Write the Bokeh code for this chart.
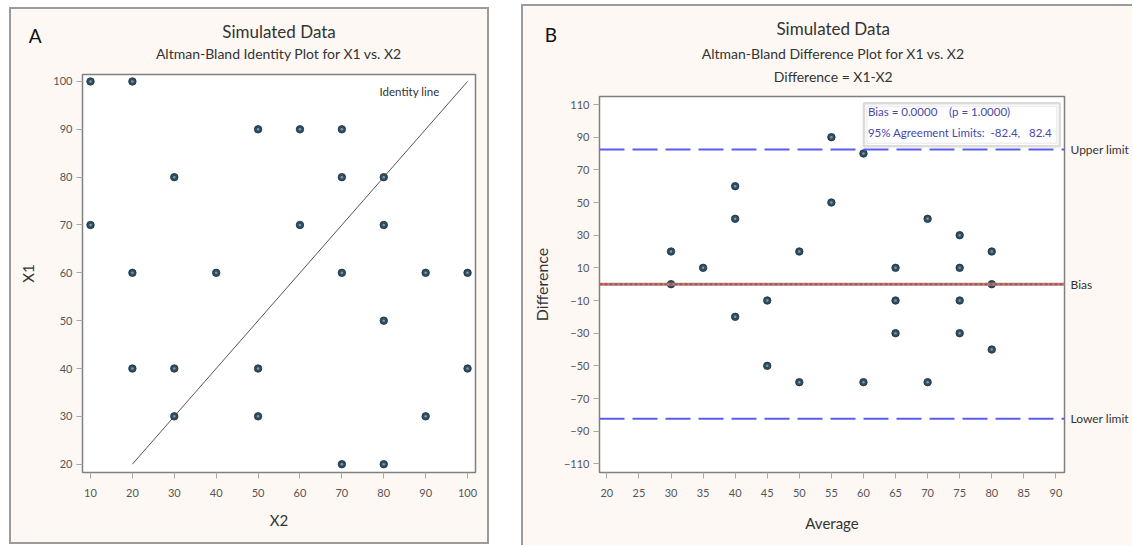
from bokeh.plotting import figure
from bokeh.layouts import row, column
from bokeh.models import Label, Span, BoxAnnotation, Spacer, Range1d, LinearAxis, FixedTicker
from bokeh.core.properties import value
from bokeh.embed import file_html
from bokeh.resources import INLINE

# ---------------- data ----------------
x2_vals = [10, 20, 50, 60, 70, 30, 70, 80, 10, 60, 80, 20, 40, 70, 90, 100, 80, 20, 30, 50, 100, 30, 50, 90, 70, 80]
x1_vals = [100, 100, 90, 90, 90, 80, 80, 80, 70, 70, 70, 60, 60, 60, 60, 60, 50, 40, 40, 40, 40, 30, 30, 30, 20, 20]
identity_ends = [20, 100]
a_xticks = [10, 20, 30, 40, 50, 60, 70, 80, 90, 100]
a_yticks = [20, 30, 40, 50, 60, 70, 80, 90, 100]

average_vals = [(a + b) / 2 for a, b in zip(x1_vals, x2_vals)]
difference_vals = [a - b for a, b in zip(x1_vals, x2_vals)]
bias = 0.0
p_value = 1.0
lower_limit = -82.4
upper_limit = 82.4
limit_names = ["Lower limit", "Bias", "Upper limit"]
b_xticks = [20, 25, 30, 35, 40, 45, 50, 55, 60, 65, 70, 75, 80, 85, 90]
b_yticks = [-110, -90, -70, -50, -30, -10, 10, 30, 50, 70, 90, 110]

# ---------------- style ----------------
FONT = "Lato"
CREAM = "#fdf8f3"
PANEL_BORDER = "#9b9b9b"
DOT_FILL = "#2f4d61"
DOT_LINE = "#1c3140"
DOT_HI = "#7f9aac"
TEXT = "#333333"
TICKTEXT = "#555555"


def style_axes(p, label_size="15px"):
    p.grid.visible = False
    for ax in p.axis:
        ax.axis_line_color = "#808080"
        ax.axis_line_width = 1
        ax.major_tick_line_color = "#a8a8a8"
        ax.major_tick_out = 6
        ax.major_tick_in = 0
        ax.minor_tick_line_color = None
        ax.major_label_text_font = FONT
        ax.major_label_text_font_size = "11px"
        ax.major_label_text_color = TICKTEXT
        ax.major_label_standoff = 4
        ax.axis_label_text_font = FONT
        ax.axis_label_text_font_size = label_size
        ax.axis_label_text_font_style = "normal"
        ax.axis_label_text_color = TEXT
    p.xaxis.major_label_standoff = 10


def dlab(p, x, y, text, xo=0, yo=0, size="12px", align="left", base="alphabetic", color=TEXT):
    p.add_layout(Label(x=x, y=y, x_offset=xo, y_offset=yo, text=text,
                       text_font=FONT, text_font_size=size, text_align=align,
                       text_baseline=base, text_color=color))


def dots(p, xs, ys):
    p.scatter(xs, ys, size=7.5, fill_color=DOT_FILL, line_color=DOT_LINE, line_width=0.8)
    p.scatter(xs, ys, size=2.5, fill_color=DOT_HI, line_color=None)


def header(width, height):
    # a bare strip whose coordinates are pixels (x from left, y from top)
    h = figure(width=width, height=height, x_range=Range1d(0, width), y_range=Range1d(height, 0),
               x_axis_location=None, y_axis_location=None, toolbar_location=None,
               output_backend="svg", title=None, min_border=0,
               outline_line_color=None, background_fill_color=None, border_fill_color=None)
    h.grid.visible = False
    h.frame_align = False
    return h


def htext(h, x, y, text, size, align="center", color=TEXT):
    h.text(x=[x], y=[y], text=[text], text_font=value(FONT), text_font_size=value(size),
           text_align=align, text_baseline="alphabetic", text_color=color)


# ---------------- panel A ----------------
ax0, ax1 = 8.09, 101.9
ay0, ay1 = 18.26, 101.46
A_W, A_HDR, A_H = 480, 65, 472
hA = header(A_W, A_HDR)
htext(hA, 19.3, 28.2, "A", "19px", align="left", color="#111111")
htext(hA, 269.5, 23.8, "Simulated Data", "17px")
htext(hA, 269.5, 45.8, "Altman-Bland Identity Plot for X1 vs. X2", "14px")

pA = figure(width=A_W, height=A_H, x_range=Range1d(ax0, ax1), y_range=Range1d(ay0, ay1),
            output_backend="svg", toolbar_location=None, title=None,
            min_border_left=73, min_border_right=14, min_border_top=2, min_border_bottom=72,
            background_fill_color="white", border_fill_color=None,
            outline_line_color="#7f7f7f", outline_line_width=1.5,
            x_axis_label="X2", y_axis_label="X1")
pA.frame_align = False
pA.xaxis.ticker = a_xticks
pA.yaxis.ticker = a_yticks
style_axes(pA, "15px")
pA.xaxis.axis_label_standoff = 11
pA.yaxis.axis_label_standoff = 13

pA.line(identity_ends, identity_ends, line_color="#555555", line_width=1)
dots(pA, x2_vals, x1_vals)
dlab(pA, ax1, ay1, "Identity line", xo=-36, yo=-16.7, size="11.5px", align="right", base="middle")

colA = column(hA, pA)
colA.styles = {"background-color": CREAM, "box-shadow": f"inset 0 0 0 2px {PANEL_BORDER}"}

# ---------------- panel B ----------------
bx0, bx1 = 18.85, 91.34
by0, by1 = -115.3, 114.9
B_W, B_HDR, B_H = 611, 90, 451
hB = header(B_W, B_HDR)
htext(hB, 23.2, 30.2, "B", "19px", align="left", color="#111111")
htext(hB, 311.7, 24.2, "Simulated Data", "17px")
htext(hB, 311.7, 48.8, "Altman-Bland Difference Plot for X1 vs. X2", "14px")
htext(hB, 311.7, 71.5, "Difference = X1-X2", "14px")

pB = figure(width=B_W, height=B_H, x_range=Range1d(bx0, bx1), y_range=Range1d(by0, by1),
            output_backend="svg", toolbar_location=None, title=None,
            min_border_left=78, min_border_right=66, min_border_top=2, min_border_bottom=73,
            background_fill_color="white", border_fill_color=None,
            outline_line_color="#7f7f7f", outline_line_width=1.5,
            x_axis_label="Average", y_axis_label="Difference")
pB.frame_align = False
pB.xaxis.ticker = b_xticks
pB.yaxis.ticker = b_yticks

# right-hand labels for the reference lines
limit_vals = [lower_limit, bias, upper_limit]
right_ax = LinearAxis(ticker=FixedTicker(ticks=limit_vals),
                      major_label_overrides={v: n for v, n in zip(limit_vals, limit_names)})
pB.add_layout(right_ax, "right")
style_axes(pB, "15px")
pB.yaxis[0].axis_label_text_font_size = "16px"
pB.xaxis.axis_label_standoff = 14
pB.yaxis[0].axis_label_standoff = 10
right_ax.axis_line_color = None
right_ax.major_tick_line_color = None
right_ax.major_tick_out = 0
right_ax.major_label_standoff = 6
right_ax.major_label_text_font_size = "12px"
right_ax.major_label_text_color = TEXT

pB.add_layout(Span(location=upper_limit, dimension="width", line_color="#5c5cf0",
                   line_width=2, line_dash="25 8"))
pB.add_layout(Span(location=lower_limit, dimension="width", line_color="#5c5cf0",
                   line_width=2, line_dash="25 8"))
pB.add_layout(Span(location=0, dimension="width", line_color="#909090", line_width=3))
pB.add_layout(Span(location=bias, dimension="width", line_color="#e23a2f",
                   line_width=2, line_dash="3 2"))
dots(pB, average_vals, difference_vals)

# stats box (double border)
box_l, box_r, box_t, box_b = 60.07, 90.6, 110.8, 84.47
pB.add_layout(BoxAnnotation(left=box_l, right=box_r, top=box_t, bottom=box_b,
                            fill_color="white", fill_alpha=1.0,
                            line_color="#8c8c8c", line_width=2.5))
pB.add_layout(BoxAnnotation(left=box_l + 0.47, right=box_r - 0.47, top=box_t - 1.84, bottom=box_b + 1.84,
                            fill_color=None, line_color="#b0b0b0", line_width=1))
STAT = "#4848aa"
NB = "\u00a0"
dlab(pB, box_l, by1, f"Bias = {bias:.4f}{NB*4}(p = {p_value:.4f})", xo=4, yo=-15,
     size="11.5px", base="middle", color=STAT)
dlab(pB, box_l, by1, f"95% Agreement Limits:{NB*2}{lower_limit:.1f},{NB*3}{upper_limit:.1f}", xo=4, yo=-35.7,
     size="11.5px", base="middle", color=STAT)

colB = column(hB, pB)
colB.styles = {"background-color": CREAM, "box-shadow": f"inset 2px 2px 0 0 {PANEL_BORDER}"}

layout = row(Spacer(width=9, height=10),
             column(Spacer(width=A_W, height=7), colA),
             Spacer(width=32, height=10),
             column(Spacer(width=B_W, height=4), colB))
open("out.html", "w").write(file_html(layout, INLINE))
